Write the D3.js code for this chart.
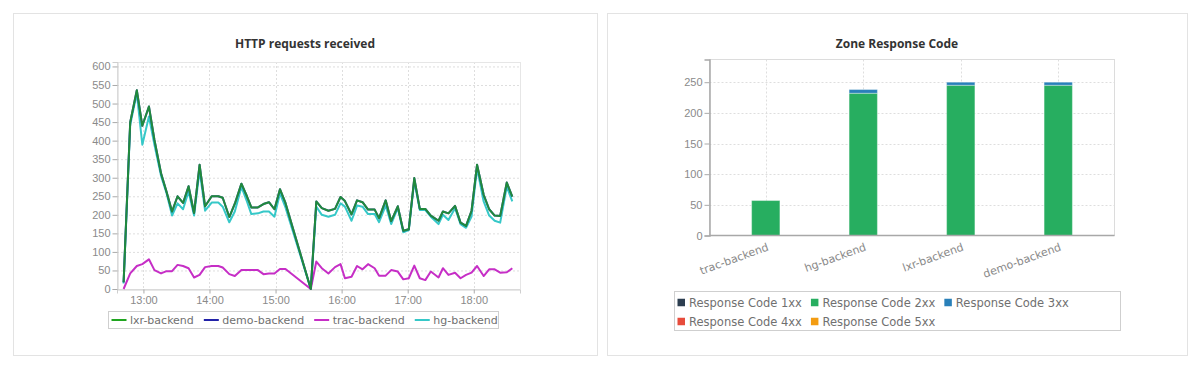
<!DOCTYPE html>
<html>
<head>
<meta charset="utf-8">
<script src="https://cdn.jsdelivr.net/npm/d3@7"></script>
<style>
  body { margin: 0; background: #fff; }
  svg { display: block; font-family: "DejaVu Sans", sans-serif; }
  .title { font-family: "Open Sans", sans-serif; font-weight: 700; font-size: 12px; fill: #333; }
  .tick text { fill: #8a8a8a; font-size: 11px; }
  .tick line { stroke: #aaa; }
  .grid line { stroke: #dedede; stroke-dasharray: 2,2; }
  .legend text { fill: #707070; font-size: 11px; }
  .legend.codes text { font-size: 11.5px; }
</style>
</head>
<body>
<script>
// ---- HTTP requests received ----
var times = ['12:42','12:48','12:54','12:59','13:05','13:10','13:16','13:21','13:26','13:31',
             '13:36','13:41','13:46','13:51','13:56','14:02','14:08','14:12','14:18','14:23',
             '14:29','14:34','14:38','14:44','14:49','14:54','14:59','15:04','15:09','15:32',
             '15:37','15:42','15:48','15:54','15:59','16:03','16:09','16:14','16:19','16:24',
             '16:30','16:34','16:40','16:45','16:51','16:56','17:01','17:06','17:11','17:16',
             '17:21','17:28','17:32','17:37','17:43','17:48','17:53','17:58','18:03','18:09',
             '18:14','18:19','18:24','18:30','18:35'];
var lxr  = [18,450,536,440,492,402,312,262,209,250, 232,277,205,335,223,250,250,246,194,230,
            284,250,220,220,229,234,215,269,232,0, 236,218,211,216,248,237,201,239,234,214,
            214,191,239,183,223,157,161,299,216,216, 198,184,209,204,224,179,170,211,335,254,
            215,198,197,287,249];
var demo = [18,450,536,440,492,402,312,262,209,250, 232,277,205,335,223,250,250,246,194,230,
            284,250,220,220,229,234,215,269,232,0, 236,218,211,216,248,237,201,239,234,214,
            214,191,239,183,223,157,161,299,216,216, 198,184,209,204,224,179,170,211,335,254,
            215,198,197,287,249];
var trac = [0,42,62,67,80,51,42,48,48,65, 62,56,31,38,59,62,62,58,40,35,
            51,51,51,51,40,42,42,54,54,0, 74,56,42,59,67,29,33,62,53,67,
            56,36,36,51,47,26,29,63,29,24, 47,31,56,38,44,29,38,44,62,35,
            53,53,44,45,56];
var hg   = [15,443,528,389,465,389,305,258,198,231, 215,263,198,320,211,233,233,222,180,209,
            275,236,202,204,209,209,195,258,220,0, 222,200,195,200,231,222,184,225,222,202,
            202,180,225,175,218,153,159,290,213,213, 195,175,200,186,218,175,165,195,326,236,
            198,184,179,276,236];
var yTicks = [0,50,100,150,200,250,300,350,400,450,500,550,600];

// ---- Zone Response Code ----
var backends = ['trac-backend','hg-backend','lxr-backend','demo-backend'];
var codes    = ['Response Code 1xx','Response Code 2xx','Response Code 3xx','Response Code 4xx','Response Code 5xx'];
var code1xx  = [0,0,0,0];
var code2xx  = [57,232,245,245];
var code3xx  = [0,6,5,5];
var code4xx  = [0,0,0,0];
var code5xx  = [0,0,0,0];
var barTicks = [0,50,100,150,200,250];

var svg = d3.select('body').append('svg')
  .attr('width', 1200)
  .attr('height', 370);

// panels
svg.append('rect').attr('x', 13.5).attr('y', 13.5).attr('width', 584).attr('height', 342)
  .attr('fill', '#fff').attr('stroke', '#e3e3e3');
svg.append('rect').attr('x', 607.5).attr('y', 13.5).attr('width', 580).attr('height', 342)
  .attr('fill', '#fff').attr('stroke', '#e3e3e3');

// ================= left: line chart =================
var parse = d3.timeParse('%H:%M');
var L = { left: 117, right: 520, top: 62, bottom: 289 };

var x = d3.scaleTime()
  .domain([parse('12:36'), parse('18:42')])
  .range([L.left, L.right]);
var y = d3.scaleLinear()
  .domain([0, 612])
  .range([L.bottom, L.top]);

svg.append('text').attr('class', 'title')
  .attr('x', 305).attr('y', 48).attr('text-anchor', 'middle')
  .text('HTTP requests received');

var lg = svg.append('g').attr('class', 'grid');
lg.selectAll('.h').data(yTicks.slice(1)).enter().append('line')
  .attr('x1', L.left).attr('x2', L.right)
  .attr('y1', function(d) { return y(d) + 0.5; })
  .attr('y2', function(d) { return y(d) + 0.5; });
lg.selectAll('.v').data(x.ticks(d3.timeHour.every(1))).enter().append('line')
  .attr('y1', L.top).attr('y2', L.bottom)
  .attr('x1', function(d) { return Math.round(x(d)) + 0.5; })
  .attr('x2', function(d) { return Math.round(x(d)) + 0.5; });

svg.append('rect')
  .attr('x', L.left + 0.5).attr('y', L.top + 0.5)
  .attr('width', L.right - L.left).attr('height', L.bottom - L.top)
  .attr('fill', 'none').attr('stroke', '#e6e6e6');

var yAxis = svg.append('g')
  .attr('transform', 'translate(' + (L.left + 0.5) + ',0)')
  .call(d3.axisLeft(y).tickValues(yTicks).tickSize(5).tickPadding(2));
var xAxis = svg.append('g')
  .attr('transform', 'translate(0,' + (L.bottom + 0.5) + ')')
  .call(d3.axisBottom(x).ticks(d3.timeHour.every(1)).tickFormat(d3.timeFormat('%H:%M'))
    .tickSize(4).tickPadding(3));
[yAxis, xAxis].forEach(function(a) {
  a.select('.domain').attr('stroke', '#cfcfcf');
  a.selectAll('text').attr('font-family', null).attr('font-size', null);
});

var series = [
  { name: 'lxr-backend',  values: lxr,  color: '#20a520', opacity: 0.8 },
  { name: 'demo-backend', values: demo, color: '#2222a8', opacity: 1 },
  { name: 'trac-backend', values: trac, color: '#c62ec6', opacity: 1 },
  { name: 'hg-backend',   values: hg,   color: '#36c8c8', opacity: 1 }
];

var line = d3.line()
  .x(function(d) { return x(d.t); })
  .y(function(d) { return y(d.v); });

function points(vals) {
  return vals.map(function(v, i) { return { t: parse(times[i]), v: v }; });
}

// draw order: hg, trac, demo, lxr on top
[3, 2, 1, 0].forEach(function(i) {
  var s = series[i];
  svg.append('path')
    .datum(points(s.values))
    .attr('d', line)
    .attr('fill', 'none')
    .attr('stroke', s.color)
    .attr('stroke-opacity', s.opacity)
    .attr('stroke-width', 2)
    .attr('stroke-linejoin', 'round');
});

// legend
svg.append('rect').attr('x', 108.5).attr('y', 311.5).attr('width', 390).attr('height', 17)
  .attr('fill', '#fff').attr('stroke', '#cfcfcf');
var leg1 = svg.append('g').attr('class', 'legend');
var lx = 111.5;
series.forEach(function(s) {
  leg1.append('line').attr('x1', lx).attr('x2', lx + 15).attr('y1', 320).attr('y2', 320)
    .attr('stroke', s.color).attr('stroke-width', 2);
  var t = leg1.append('text').attr('x', lx + 18.5).attr('y', 324).text(s.name);
  lx = lx + 18.5 + t.node().getComputedTextLength() + 10;
});

// ================= right: stacked bars =================
var R = { left: 709.5, right: 1114.5, top: 59.5, bottom: 235.5 };
var codeColors = ['#2c3e50', '#27ae60', '#2980b9', '#e74c3c', '#f39c12'];
var codeValues = [code1xx, code2xx, code3xx, code4xx, code5xx];

var bx = d3.scaleBand()
  .domain(backends)
  .range([R.left, R.right])
  .paddingInner(0.71)
  .paddingOuter(0.432);
var by = d3.scaleLinear()
  .domain([0, 287])
  .range([R.bottom, R.top]);

svg.append('text').attr('class', 'title')
  .attr('x', 897).attr('y', 48).attr('text-anchor', 'middle')
  .text('Zone Response Code');

var rg = svg.append('g').attr('class', 'grid');
rg.selectAll('.h').data(barTicks.slice(1)).enter().append('line')
  .attr('x1', R.left).attr('x2', R.right)
  .attr('y1', function(d) { return Math.round(by(d)) + 0.5; })
  .attr('y2', function(d) { return Math.round(by(d)) + 0.5; });
rg.selectAll('.v').data(backends).enter().append('line')
  .attr('y1', R.top).attr('y2', R.bottom)
  .attr('x1', function(d) { return Math.round(bx(d) + bx.bandwidth() / 2) + 0.5; })
  .attr('x2', function(d) { return Math.round(bx(d) + bx.bandwidth() / 2) + 0.5; });

svg.append('rect')
  .attr('x', R.left).attr('y', R.top)
  .attr('width', R.right - R.left).attr('height', R.bottom - R.top)
  .attr('fill', 'none').attr('stroke', '#dcdcdc');

var rows = backends.map(function(b, i) {
  var r = { backend: b };
  codes.forEach(function(c, j) { r[c] = codeValues[j][i]; });
  return r;
});
var stacked = d3.stack().keys(codes)(rows);

svg.append('g').selectAll('g').data(stacked).enter().append('g')
  .attr('fill', function(d, i) { return codeColors[i]; })
  .selectAll('rect').data(function(d) { return d; }).enter().append('rect')
  .filter(function(d) { return d[1] > d[0]; })
  .attr('x', function(d) { return bx(d.data.backend); })
  .attr('width', bx.bandwidth())
  .attr('y', function(d) { return by(d[1]); })
  .attr('height', function(d) { return by(d[0]) - by(d[1]); })
  .attr('stroke', 'rgba(255,255,255,0.35)')
  .attr('stroke-width', 1);

var byAxis = svg.append('g')
  .attr('transform', 'translate(' + R.left + ',0)')
  .call(d3.axisLeft(by).tickValues(barTicks).tickSize(5).tickPadding(2));
byAxis.select('.domain').attr('stroke', '#a8a8a8').attr('stroke-width', 1.5);
byAxis.selectAll('text').attr('font-family', null).attr('font-size', null);

svg.append('line')
  .attr('x1', R.left).attr('x2', R.right)
  .attr('y1', R.bottom).attr('y2', R.bottom)
  .attr('stroke', '#a8a8a8').attr('stroke-width', 1.5);

svg.append('g').selectAll('text').data(backends).enter().append('text')
  .attr('transform', function(d) {
    return 'translate(' + (bx(d) + bx.bandwidth() / 2 + 3.5) + ',250) rotate(-20)';
  })
  .attr('text-anchor', 'end')
  .attr('fill', '#8a8a8a')
  .attr('font-size', 11)
  .text(function(d) { return d; });

// legend
svg.append('rect').attr('x', 674.5).attr('y', 291.5).attr('width', 446).attr('height', 39)
  .attr('fill', '#fff').attr('stroke', '#cfcfcf');
var leg2 = svg.append('g').attr('class', 'legend codes');
var cx = 677.5, cy = 302.5;
codes.forEach(function(c, i) {
  var t = leg2.append('text').attr('x', cx + 11.5).attr('y', cy + 4).text(c);
  var w = t.node().getComputedTextLength();
  if (cx + 11.5 + w > 1118) {
    cx = 677.5; cy += 19;
    t.attr('x', cx + 11.5).attr('y', cy + 4);
  }
  leg2.append('rect').attr('x', cx).attr('y', cy - 3.75).attr('width', 7.5).attr('height', 7.5)
    .attr('fill', codeColors[i]);
  cx = cx + 11.5 + w + 9;
});
</script>
</body>
</html>
